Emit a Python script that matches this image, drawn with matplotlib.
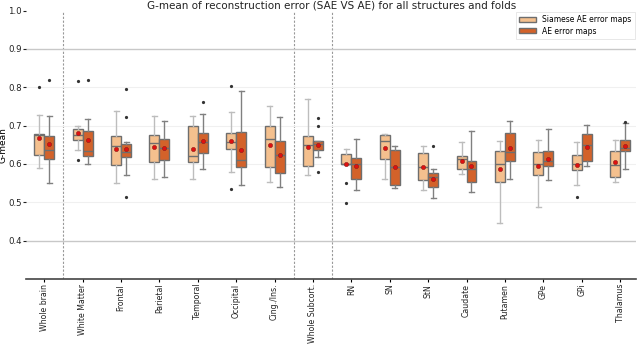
import matplotlib
matplotlib.use("Agg")
import matplotlib.pyplot as plt
from matplotlib.patches import Patch

categories = ["Whole brain", "White Matter", "Frontal", "Parietal", "Temporal",
              "Occipital", "Cing./Ins.", "Whole Subcort.", "RN", "SN", "StN",
              "Caudate", "Putamen", "GPe", "GPi", "Thalamus"]

# Siamese AE error maps
sae_whislo = [0.589, 0.637, 0.550, 0.561, 0.562, 0.579, 0.553, 0.571, 0.598, 0.562, 0.533, 0.574, 0.446, 0.487, 0.546, 0.554]
sae_q1     = [0.624, 0.663, 0.597, 0.606, 0.604, 0.639, 0.593, 0.595, 0.601, 0.614, 0.559, 0.587, 0.553, 0.572, 0.585, 0.567]
sae_med    = [0.675, 0.676, 0.646, 0.654, 0.620, 0.658, 0.665, 0.649, 0.601, 0.659, 0.593, 0.612, 0.600, 0.600, 0.600, 0.598]
sae_q3     = [0.679, 0.691, 0.673, 0.675, 0.700, 0.681, 0.698, 0.672, 0.625, 0.675, 0.628, 0.621, 0.634, 0.631, 0.624, 0.634]
sae_whishi = [0.727, 0.698, 0.737, 0.725, 0.724, 0.735, 0.752, 0.769, 0.640, 0.678, 0.647, 0.658, 0.659, 0.663, 0.657, 0.663]
sae_mean   = [0.669, 0.682, 0.639, 0.644, 0.640, 0.660, 0.650, 0.644, 0.599, 0.641, 0.592, 0.608, 0.588, 0.595, 0.598, 0.605]
sae_fliers = [[0.800], [0.817, 0.611], [], [], [], [0.804, 0.535], [], [], [0.550, 0.498],
              [], [], [], [], [], [0.515], []]

# AE error maps
ae_whislo = [0.550, 0.600, 0.570, 0.567, 0.588, 0.544, 0.541, 0.618, 0.533, 0.538, 0.511, 0.528, 0.561, 0.557, 0.595, 0.588]
ae_q1     = [0.613, 0.621, 0.617, 0.611, 0.628, 0.592, 0.576, 0.637, 0.562, 0.546, 0.540, 0.553, 0.607, 0.595, 0.607, 0.633]
ae_med    = [0.636, 0.634, 0.630, 0.641, 0.658, 0.611, 0.624, 0.653, 0.600, 0.591, 0.565, 0.588, 0.631, 0.607, 0.650, 0.641]
ae_q3     = [0.672, 0.687, 0.653, 0.665, 0.682, 0.683, 0.660, 0.659, 0.615, 0.637, 0.576, 0.608, 0.682, 0.635, 0.679, 0.663]
ae_whishi = [0.725, 0.718, 0.657, 0.711, 0.730, 0.791, 0.722, 0.660, 0.666, 0.646, 0.587, 0.687, 0.711, 0.692, 0.702, 0.707]
ae_mean   = [0.653, 0.663, 0.640, 0.642, 0.659, 0.637, 0.624, 0.649, 0.594, 0.591, 0.561, 0.594, 0.641, 0.614, 0.644, 0.647]
ae_fliers = [[0.819], [0.819], [0.795, 0.722, 0.515], [], [0.761], [], [], [0.719, 0.700, 0.578],
             [], [], [0.647], [], [], [], [], [0.709]]

series_names = ["Siamese AE error maps", "AE error maps"]
colors = ["#f4c08e", "#d3622a"]

def make_stats(lo, q1, med, q3, hi, mean, fl):
    return [dict(whislo=a, q1=b, med=c, q3=d, whishi=e, mean=m, fliers=f)
            for a, b, c, d, e, m, f in zip(lo, q1, med, q3, hi, mean, fl)]

stats_sets = [
    make_stats(sae_whislo, sae_q1, sae_med, sae_q3, sae_whishi, sae_mean, sae_fliers),
    make_stats(ae_whislo, ae_q1, ae_med, ae_q3, ae_whishi, ae_mean, ae_fliers),
]

fig = plt.figure(figsize=(6.4, 3.44), dpi=100)
ax = fig.add_axes([0.041, 0.189, 0.953, 0.780])

width = 0.26
offsets = [-width / 2, width / 2]
whisk_colors = ["#bdbdbd", "#808080"]
for k, stats in enumerate(stats_sets):
    pos = [i + offsets[k] for i in range(len(categories))]
    ax.bxp(stats, positions=pos, widths=width, patch_artist=True,
           showmeans=True, showfliers=True,
           boxprops=dict(facecolor=colors[k], edgecolor="#6e6e6e", linewidth=1.0),
           medianprops=dict(color="#6e6e6e", linewidth=1.0),
           whiskerprops=dict(color=whisk_colors[k], linewidth=1.0),
           capprops=dict(color=whisk_colors[k], linewidth=1.0),
           meanprops=dict(marker="o", markerfacecolor="#e0100f", markeredgecolor="#8b1a1a",
                          markersize=3, markeredgewidth=0.4),
           flierprops=dict(marker="o", markerfacecolor="#333333", markeredgecolor="#333333",
                           markersize=1.3))

for xv in [0.5, 6.5, 7.5]:
    ax.axvline(xv, color="#999999", linestyle=(0, (2, 1.5)), linewidth=0.8, zorder=0)

ax.set_ylim(0.3, 1.0)
ax.set_xlim(-0.47, 15.42)
ax.set_yticks([0.4, 0.5, 0.6, 0.7, 0.8, 0.9, 1.0])
ax.set_yticklabels(["0.4", "0.5", "0.6", "0.7", "0.8", "0.9", "1.0"])
for yv in [0.5, 0.6, 0.7, 0.8]:
    ax.axhline(yv, color="#f0f0f0", linewidth=0.8, zorder=0)
for yv in [0.4, 0.9]:
    ax.axhline(yv, color="#c8c8c8", linewidth=1.0, zorder=0)

ax.set_xticks(range(len(categories)))
ax.set_xticklabels(categories, rotation=90, fontsize=5.6, color="#222222")
ax.tick_params(axis="y", labelsize=6.2, length=2, pad=1.2, colors="#222222")
ax.tick_params(axis="x", length=2, pad=1.5)
for s in ["top", "right", "left"]:
    ax.spines[s].set_visible(False)
ax.spines["bottom"].set_color("#444444")
ax.spines["bottom"].set_linewidth(1.2)

ax.set_ylabel("G-mean", fontsize=6.5)
ax.yaxis.set_label_coords(-0.030, 0.5)
ax.set_title("G-mean of reconstruction error (SAE VS AE) for all structures and folds",
             fontsize=7.5, pad=1, color="#222222")

handles = [Patch(facecolor=colors[k], edgecolor="#6e6e6e", label=series_names[k]) for k in range(2)]
leg = ax.legend(handles=handles, loc="upper right", fontsize=5.5, frameon=True, fancybox=False,
                handlelength=2.2, handleheight=0.6, borderpad=0.4, labelspacing=0.3,
                borderaxespad=0.2)
leg.get_frame().set_edgecolor("#dddddd")
leg.get_frame().set_linewidth(0.6)

fig.savefig("out.png", dpi=100)
